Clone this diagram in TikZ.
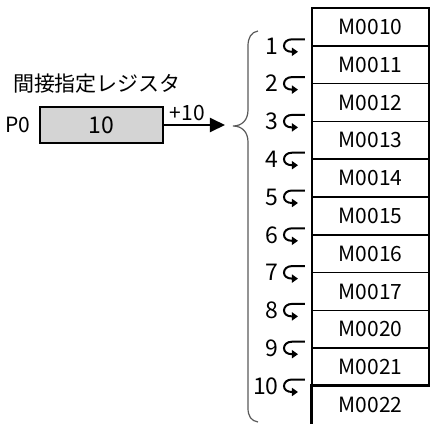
\documentclass[tikz,border=0pt]{standalone}
\usepackage{fontspec}
\setmainfont{Noto Sans CJK JP}
\usetikzlibrary{arrows.meta,positioning}
\newcommand\memFont{\fontsize{10.5}{12}\selectfont}
\newcommand\memBigFont{\fontsize{11.5}{13}\selectfont}
\tikzset{
  memRegBox/.style={draw, line width=1.2pt, fill=black!17, minimum width=61.5pt, minimum height=18pt, inner sep=0pt, font=\memBigFont},
  memCell/.style={draw, line width=0.8pt, minimum width=58.5pt, minimum height=18.9pt, inner sep=0pt, font=\memFont},
  memLabel/.style={inner sep=0pt, font=\memFont},
  memNum/.style={anchor=east, inner sep=0pt, font=\memBigFont},
  memArrow/.style={-{Triangle[length=7.5pt, width=7pt]}, line width=1pt},
  memBoldEdge/.style={line width=1.6pt},
  memBrace/.style={line width=0.6pt, black!65},
  memHook/.pic={
    \draw[-{Triangle[length=3pt, width=4pt]}, line width=1pt]
      (21,-6.5) -- (8,-6.5) .. controls (3,-6.5) and (0,-3.5) .. (0,0)
      .. controls (0,3.5) and (3,6) .. (8,6) -- (14,6);
  }
}

\begin{document}
\begin{tikzpicture}[x=0.5pt, y=-0.5pt]
  \useasboundingbox (0,0) rectangle (430,424);
  % register
  \node[memLabel] (title) at (97,84) {間接指定レジスタ};
  \node[memRegBox] (reg) at (101.5,125) {10};
  \node[memLabel, left=4pt of reg] (p0) {P0};
  \coordinate (regTip) at (225,125);
  \draw[memArrow] (reg.east) -- node[memLabel, pos=0.38, above=1.5pt] (offset) {+10} (regTip);
  % brace
  \draw[memBrace] (258,31) .. controls (251,32) and (248,38) .. (248,46) -- (248,110)
    .. controls (248,120) and (242,126) .. (233,126)
    .. controls (242,126) and (248,132) .. (248,142) -- (248,408)
    .. controls (248,416) and (251,421) .. (258,422);
  % memory cells
  \node[memCell] (m10) at (370.5,26.9) {M0010};
  \node[memCell] (m11) at (370.5,64.7) {M0011};
  \node[memCell] (m12) at (370.5,102.5) {M0012};
  \node[memCell] (m13) at (370.5,140.3) {M0013};
  \node[memCell] (m14) at (370.5,178.1) {M0014};
  \node[memCell] (m15) at (370.5,215.9) {M0015};
  \node[memCell] (m16) at (370.5,253.7) {M0016};
  \node[memCell] (m17) at (370.5,291.5) {M0017};
  \node[memCell] (m20) at (370.5,329.3) {M0020};
  \node[memCell] (m21) at (370.5,367.1) {M0021};
  \node[memLabel, minimum width=58.5pt, minimum height=18.9pt] (m22) at (370.5,404.9) {M0022};
  \draw[memBoldEdge] ([yshift=-10pt]m22.south west) -- (m22.north west) -- ([xshift=10pt]m22.north east);
  % offsets
  \node[memNum] (n1) at (279,45.8) {1};
  \node[memNum] (n2) at (279,83.6) {2};
  \node[memNum] (n3) at (279,121.4) {3};
  \node[memNum] (n4) at (279,159.2) {4};
  \node[memNum] (n5) at (279,197) {5};
  \node[memNum] (n6) at (279,234.8) {6};
  \node[memNum] (n7) at (279,272.6) {7};
  \node[memNum] (n8) at (279,310.4) {8};
  \node[memNum] (n9) at (279,348.2) {9};
  \node[memNum] (n10) at (279,386) {10};
  \pic at (284,45.8) {memHook};
  \pic at (284,83.6) {memHook};
  \pic at (284,121.4) {memHook};
  \pic at (284,159.2) {memHook};
  \pic at (284,197) {memHook};
  \pic at (284,234.8) {memHook};
  \pic at (284,272.6) {memHook};
  \pic at (284,310.4) {memHook};
  \pic at (284,348.2) {memHook};
  \pic at (284,386) {memHook};
\end{tikzpicture}
\end{document}
